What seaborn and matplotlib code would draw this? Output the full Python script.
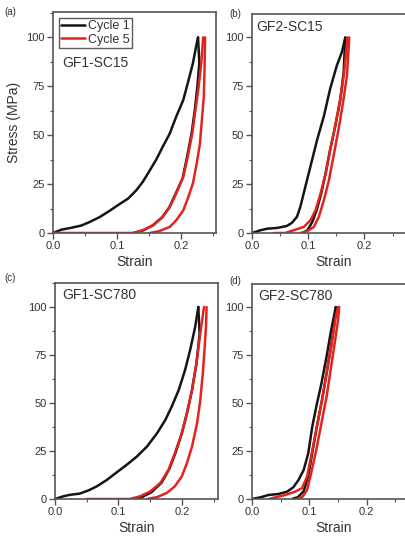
import pandas as pd
import seaborn as sns
import matplotlib
matplotlib.use("Agg")
from matplotlib import pyplot as plt
from matplotlib.ticker import MultipleLocator

# (strain, stress in MPa)
# --- (a) GF1-SC15
A_C1_LOAD = [(0, 0), (0.013, 1.7), (0.029, 2.7), (0.044, 3.8), (0.057, 5.6), (0.073, 8.2),
             (0.088, 11.3), (0.101, 14.2), (0.117, 17.6), (0.130, 21.9), (0.140, 26.2),
             (0.151, 32.1), (0.161, 37.6), (0.171, 44.1), (0.182, 50.9), (0.192, 59.5),
             (0.203, 68.0), (0.210, 76.6), (0.218, 86.8), (0.223, 95.4), (0.226, 100)]
A_C1_UNLOAD = [(0.226, 100), (0.228, 87.0), (0.225, 75.0), (0.221, 63.0), (0.216, 51.0),
               (0.209, 39.0), (0.202, 28.0), (0.191, 20.0), (0.181, 13.0), (0.170, 8.0),
               (0.155, 3.8), (0.140, 1.3), (0.125, 0)]
A_C5_LOAD = [(0, 0), (0.125, 0), (0.140, 1.4), (0.156, 3.9), (0.171, 8.2), (0.182, 13.3),
             (0.192, 20.2), (0.203, 28.7), (0.210, 39.0), (0.217, 50.9), (0.222, 62.9),
             (0.227, 74.9), (0.231, 86.8), (0.234, 100)]
A_C5_UNLOAD = [(0.237, 100), (0.236, 81.7), (0.235, 69.7), (0.232, 57.8), (0.229, 45.8),
               (0.224, 35.6), (0.218, 25.3), (0.210, 17.6), (0.203, 11.6), (0.192, 6.5),
               (0.182, 3.1), (0.166, 1.0), (0.151, 0)]

# --- (b) GF2-SC15
B_C1_LOAD = [(0, 0), (0.015, 1.4), (0.027, 2.2), (0.045, 2.6), (0.062, 3.6), (0.071, 5.2),
             (0.080, 8.3), (0.086, 13.4), (0.092, 20.3), (0.098, 27.2), (0.107, 37.5),
             (0.116, 47.8), (0.128, 59.9), (0.139, 73.7), (0.151, 85.7), (0.160, 92.6), (0.166, 100)]
B_C1_UNLOAD = [(0.166, 100), (0.163, 82.0), (0.157, 68.0), (0.148, 54.6), (0.139, 42.5),
               (0.131, 30.5), (0.123, 20.0), (0.115, 11.6), (0.107, 5.5), (0.099, 1.5), (0.090, 0)]
B_C5_LOAD = [(0.040, 0), (0.059, 0), (0.074, 1.4), (0.092, 3.1), (0.104, 6.5), (0.113, 11.6),
             (0.122, 20.2), (0.131, 30.5), (0.139, 42.5), (0.148, 54.6), (0.157, 68.3),
             (0.164, 82.1), (0.170, 100)]
B_C5_UNLOAD = [(0.173, 100), (0.169, 80.6), (0.162, 66.8), (0.154, 53.0), (0.145, 39.2),
               (0.137, 27.2), (0.128, 16.9), (0.119, 8.3), (0.110, 3.1), (0.098, 0.9), (0.086, 0)]

# --- (c) GF1-SC780
C_C1_LOAD = [(0, 0), (0.013, 1.4), (0.024, 2.2), (0.039, 2.8), (0.053, 4.5), (0.066, 6.6),
             (0.082, 10.0), (0.097, 13.8), (0.113, 17.8), (0.129, 22.1), (0.145, 27.3),
             (0.161, 34.3), (0.174, 41.2), (0.184, 48.1), (0.195, 56.7), (0.205, 67.1),
             (0.213, 77.5), (0.221, 89.6), (0.226, 100)]
C_C1_UNLOAD = [(0.226, 100), (0.228, 86.0), (0.223, 70.6), (0.216, 56.7), (0.208, 44.6),
               (0.200, 34.3), (0.190, 24.0), (0.180, 15.5), (0.168, 8.5), (0.152, 3.5),
               (0.137, 1.0), (0.125, 0)]
C_C5_LOAD = [(0.050, 0), (0.118, 0), (0.134, 1.4), (0.150, 3.9), (0.166, 8.3), (0.179, 15.2),
             (0.189, 23.9), (0.200, 34.3), (0.208, 44.6), (0.216, 56.7), (0.223, 70.6),
             (0.229, 86.2), (0.235, 100)]
C_C5_UNLOAD = [(0.239, 100), (0.238, 89.4), (0.236, 79.1), (0.233, 65.2), (0.229, 51.4),
               (0.224, 39.4), (0.216, 27.3), (0.208, 18.7), (0.200, 11.8), (0.189, 6.6),
               (0.176, 3.1), (0.161, 1.0), (0.145, 0)]

# --- (d) GF2-SC780
D_C1_LOAD = [(0, 0), (0.015, 0.9), (0.029, 2.1), (0.046, 2.6), (0.061, 3.8), (0.072, 6.1),
             (0.081, 9.9), (0.090, 15.1), (0.098, 23.8), (0.105, 37.7), (0.112, 48.1),
             (0.121, 60.3), (0.130, 74.3), (0.137, 86.5), (0.146, 100)]
D_C1_UNLOAD = [(0.146, 100), (0.143, 90.0), (0.138, 80.0), (0.130, 65.6), (0.122, 51.6),
               (0.113, 37.7), (0.105, 24.0), (0.098, 12.0), (0.090, 4.0), (0.080, 1.0), (0.070, 0)]
D_C5_LOAD = [(0.030, 0), (0.041, 0.9), (0.058, 2.1), (0.075, 3.8), (0.087, 5.6), (0.096, 11.7),
             (0.104, 23.8), (0.113, 37.7), (0.122, 51.6), (0.130, 65.6), (0.139, 81.2),
             (0.145, 93.4), (0.150, 100)]
D_C5_UNLOAD = [(0.152, 100), (0.150, 93.4), (0.145, 83.0), (0.137, 67.3), (0.130, 53.4),
               (0.121, 39.5), (0.112, 25.6), (0.103, 13.4), (0.096, 4.7), (0.088, 1.2), (0.078, 0)]

CYCLES = ['Cycle 1', 'Cycle 5']
SAMPLES = ['GF1-SC15', 'GF2-SC15', 'GF1-SC780', 'GF2-SC780']
LETTERS = ['(a)', '(b)', '(c)', '(d)']
Y_TICKS = [0, 25, 50, 75, 100]
X_TICKS = [0.0, 0.1, 0.2]

panel_data = [
    (A_C1_LOAD, A_C1_UNLOAD, A_C5_LOAD, A_C5_UNLOAD),
    (B_C1_LOAD, B_C1_UNLOAD, B_C5_LOAD, B_C5_UNLOAD),
    (C_C1_LOAD, C_C1_UNLOAD, C_C5_LOAD, C_C5_UNLOAD),
    (D_C1_LOAD, D_C1_UNLOAD, D_C5_LOAD, D_C5_UNLOAD),
]


def to_frame(branches):
    rows = []
    names = ['c1_load', 'c1_unload', 'c5_load', 'c5_unload']
    cyc = [CYCLES[0], CYCLES[0], CYCLES[1], CYCLES[1]]
    for name, cycle, pts in zip(names, cyc, branches):
        for x, y in pts:
            rows.append({'strain': x, 'stress': y, 'cycle': cycle, 'branch': name})
    return pd.DataFrame(rows)


sns.set_style('ticks')
plt.rcParams['font.family'] = ['Liberation Sans', 'DejaVu Sans']
plt.rcParams['axes.edgecolor'] = '#555555'
plt.rcParams['xtick.color'] = '#555555'
plt.rcParams['ytick.color'] = '#555555'

fig = plt.figure(figsize=(4.06, 5.38), dpi=100)

# axes boxes in figure fractions, and x range of each panel
positions = [
    [53 / 406, 305 / 538, 163 / 406, 221 / 538],
    [252 / 406, 305 / 538, 163 / 406, 219 / 538],
    [55 / 406, 39 / 538, 163 / 406, 216 / 538],
    [252 / 406, 39 / 538, 163 / 406, 215 / 538],
]
x_max = [0.254, 0.29, 0.257, 0.284]
y_max = [113, 112, 112.5, 112]
label_pos = [(0.055, 0.77), (0.025, 0.94), (0.043, 0.945), (0.037, 0.945)]
letter_pos = [(4, 12), (229, 14), (4, 278), (229, 281)]
palette = {CYCLES[0]: '#151515', CYCLES[1]: '#e3241e'}

for k in range(4):
    ax = fig.add_axes(positions[k])
    df = to_frame(panel_data[k])
    sns.lineplot(data=df, x='strain', y='stress', hue='cycle', units='branch',
                 estimator=None, sort=False, palette=palette, linewidth=1.8,
                 legend=(k == 0), ax=ax)
    ax.set_xlim(0, x_max[k])
    ax.set_ylim(0, y_max[k])
    ax.set_xticks(X_TICKS)
    ax.set_yticks(Y_TICKS)
    ax.xaxis.set_minor_locator(MultipleLocator(0.05))
    ax.yaxis.set_minor_locator(MultipleLocator(12.5))
    ax.tick_params(which='major', direction='out', length=4, width=1, labelsize=8,
                   labelcolor='#333333', pad=2)
    ax.tick_params(which='minor', direction='out', length=2, width=0.8)
    for s in ax.spines.values():
        s.set_linewidth(1.2)
    ax.set_xticklabels(['0.0', '0.1', '0.2'])
    ax.set_xlabel('Strain', fontsize=10, color='#333333', labelpad=3)
    if k == 0:
        ax.set_ylabel('Stress (MPa)', fontsize=10, color='#333333', labelpad=4)
        leg = ax.legend(loc='upper left', bbox_to_anchor=(0.02, 0.985), fontsize=9,
                        frameon=True, fancybox=False, handlelength=1.9,
                        handletextpad=0.2, borderpad=0.2, labelspacing=0.1,
                        borderaxespad=0.2)
        leg.get_frame().set_edgecolor('#333333')
        leg.get_frame().set_linewidth(1.0)
        for t in leg.get_texts():
            t.set_color('#333333')
    else:
        ax.set_ylabel('')
    ax.text(label_pos[k][0], label_pos[k][1], SAMPLES[k], transform=ax.transAxes,
            fontsize=10, color='#333333', ha='left', va='center')
    fig.text(letter_pos[k][0] / 406, 1 - letter_pos[k][1] / 538, LETTERS[k],
             fontsize=7, color='#333333', ha='left', va='center')

fig.savefig('out.png', dpi=100)
